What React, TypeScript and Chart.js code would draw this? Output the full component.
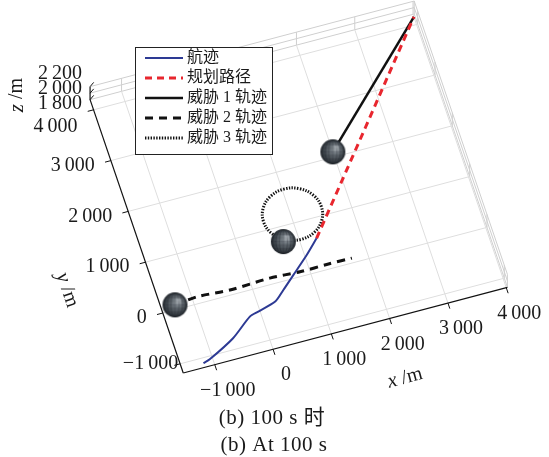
import React, { useEffect, useRef } from "react";
import { Chart, registerables } from "chart.js";

Chart.register(...registerables);

const W = 549;
const H = 457;

// Axis limits and ticks (m)
const X_LIM = [-1540, 4020];
const Y_LIM = [-1180, 4200];
const Z_LIM = [1800, 2200];
const X_TICKS = [-1000, 0, 1000, 2000, 3000, 4000];
const Y_TICKS = [-1000, 0, 1000, 2000, 3000, 4000];
const Z_TICKS = [1800, 2000, 2200];

// Flown track (航迹)
const TRACK_X = [-1170, -1050, -570, -190, -30, 290, 480, 720, 1035, 1280];
const TRACK_Y = [-1100, -1060, -790, -480, -430, -330, -160, 65, 360, 615];
// Planned path (规划路径)
const PLAN_X = [1280, 2640, 4000];
const PLAN_Y = [615, 2380, 4150];
// Threat 1 track
const THREAT1_X = [2000, 4000];
const THREAT1_Y = [2100, 4150];
// Threat 2 track
const THREAT2_X = [-1305, -900, -360, 330, 840, 1330, 1730];
const THREAT2_Y = [90, 130, 95, 120, 90, 95, 90];
// Threat 3 track (loiter circle)
const THREAT3_X = [782, 1030, 1277, 1459, 1525, 1459, 1277, 1030, 782, 601, 535, 601, 782];
const THREAT3_Y = [736, 670, 736, 917, 1165, 1412, 1594, 1660, 1594, 1412, 1165, 917, 736];
// Current threat positions
const THREAT_POS_X = [2000, -1305, 740];
const THREAT_POS_Y = [2100, 90, 715];
const ALT = 1800;

const LEGEND_LABELS = ["航迹", "规划路径", "威胁 1 轨迹", "威胁 2 轨迹", "威胁 3 轨迹"];

// Orthographic view: screen position of (0, 0, zmin) and px-per-metre basis vectors
const VIEW = {
  ox: 252.6,
  oy: 289.3,
  ex: [0.0583, -0.0154],
  ey: [-0.01732, -0.0508],
  ez: [0, -0.0325],
};

type P = { x: number; y: number };

function proj(x: number, y: number, z: number): P {
  const dz = z - Z_LIM[0];
  return {
    x: VIEW.ox + x * VIEW.ex[0] + y * VIEW.ey[0] + dz * VIEW.ez[0],
    y: VIEW.oy + x * VIEW.ex[1] + y * VIEW.ey[1] + dz * VIEW.ez[1],
  };
}

const path = (xs: number[], ys: number[], z: number) => xs.map((x, i) => proj(x, ys[i], z));

function fmt(v: number): string {
  const s = Math.abs(v).toString();
  const t = s.length > 3 ? s.slice(0, -3) + "\u2009" + s.slice(-3) : s;
  return (v < 0 ? "\u2212" : "") + t;
}

function makeSphere(r: number): HTMLCanvasElement {
  const c = document.createElement("canvas");
  const size = Math.ceil(r * 2) + 2;
  c.width = size;
  c.height = size;
  const g = c.getContext("2d")!;
  const cx = size / 2;
  const grad = g.createRadialGradient(cx + r * 0.3, cx - r * 0.35, r * 0.05, cx, cx, r);
  grad.addColorStop(0, "#b2b9be");
  grad.addColorStop(0.35, "#6c747b");
  grad.addColorStop(0.8, "#3a4147");
  grad.addColorStop(1, "#262c31");
  g.fillStyle = grad;
  g.beginPath();
  g.arc(cx, cx, r, 0, Math.PI * 2);
  g.fill();
  // faint surface mesh
  g.save();
  g.clip();
  g.strokeStyle = "rgba(20,25,30,0.22)";
  g.lineWidth = 0.6;
  for (let k = -3; k <= 3; k++) {
    g.beginPath();
    g.ellipse(cx, cx, Math.abs(k) * r * 0.28 + 0.5, r, 0, 0, Math.PI * 2);
    g.stroke();
    g.beginPath();
    g.moveTo(cx - r, cx + (k * r) / 3.5);
    g.lineTo(cx + r, cx + (k * r) / 3.5);
    g.stroke();
  }
  g.restore();
  return c;
}

const GRID = "#dedede";
const WALL = "#cfcfcf";

function seg(a: P, b: P, color: string, width = 1) {
  return {
    data: [a, b],
    showLine: true,
    borderColor: color,
    borderWidth: width,
    pointRadius: 0,
    fill: false,
  };
}

function buildDatasets(sphere: HTMLCanvasElement) {
  const [x0, x1] = X_LIM;
  const [y0, y1] = Y_LIM;
  const [z0, z1] = Z_LIM;
  const back: any[] = [];
  // floor grid
  X_TICKS.forEach((t) => back.push(seg(proj(t, y0, z0), proj(t, y1, z0), GRID)));
  Y_TICKS.forEach((t) => back.push(seg(proj(x0, t, z0), proj(x1, t, z0), GRID)));
  // back wall y = ymax
  Z_TICKS.forEach((t) => back.push(seg(proj(x0, y1, t), proj(x1, y1, t), WALL)));
  X_TICKS.forEach((t) => back.push(seg(proj(t, y1, z0), proj(t, y1, z1), WALL)));
  // back wall x = xmax
  Z_TICKS.forEach((t) => back.push(seg(proj(x1, y0, t), proj(x1, y1, t), WALL)));
  Y_TICKS.forEach((t) => back.push(seg(proj(x1, t, z0), proj(x1, t, z1), WALL)));
  back.push(seg(proj(x1, y1, z0), proj(x1, y1, z1), WALL));
  back.push(seg(proj(x1, y0, z0), proj(x1, y0, z1), WALL));

  // axis lines and tick marks
  const axes: any[] = [];
  axes.push(seg(proj(x0, y0, z0), proj(x1, y0, z0), "#111", 1.2));
  axes.push(seg(proj(x0, y0, z0), proj(x0, y1, z0), "#111", 1.2));
  axes.push(seg(proj(x0, y1, z0), proj(x0, y1, z1), "#111", 1.2));
  X_TICKS.forEach((t) => axes.push(seg(proj(t, y0, z0), proj(t, y0 - 110, z0), "#111", 1)));
  Y_TICKS.forEach((t) => axes.push(seg(proj(x0, t, z0), proj(x0 - 100, t, z0), "#111", 1)));
  Z_TICKS.forEach((t) => axes.push(seg(proj(x0, y1, t), proj(x0 + 80, y1 + 60, t), "#111", 1)));

  const spheres = {
    data: path(THREAT_POS_X, THREAT_POS_Y, ALT),
    showLine: false,
    pointStyle: sphere,
    pointRadius: 13,
    pointHoverRadius: 13,
  };

  const series = [
    {
      label: LEGEND_LABELS[0],
      legend: true,
      data: path(TRACK_X, TRACK_Y, ALT),
      showLine: true,
      borderColor: "#2d3a94",
      borderWidth: 2,
      borderDash: [],
      pointRadius: 0,
      tension: 0.25,
    },
    {
      label: LEGEND_LABELS[1],
      legend: true,
      data: path(PLAN_X, PLAN_Y, ALT),
      showLine: true,
      borderColor: "#e8262e",
      borderWidth: 3,
      borderDash: [7, 5],
      pointRadius: 0,
    },
    {
      label: LEGEND_LABELS[2],
      legend: true,
      data: path(THREAT1_X, THREAT1_Y, ALT),
      showLine: true,
      borderColor: "#111111",
      borderWidth: 2.5,
      borderDash: [],
      pointRadius: 0,
    },
    {
      label: LEGEND_LABELS[3],
      legend: true,
      data: path(THREAT2_X, THREAT2_Y, ALT),
      showLine: true,
      borderColor: "#111111",
      borderWidth: 3,
      borderDash: [8, 6],
      pointRadius: 0,
      tension: 0.3,
    },
    {
      label: LEGEND_LABELS[4],
      legend: true,
      data: path(THREAT3_X, THREAT3_Y, ALT),
      showLine: true,
      borderColor: "#111111",
      borderWidth: 3,
      borderDash: [1.4, 1.4],
      borderCapStyle: "butt",
      pointRadius: 0,
      tension: 0.4,
    },
  ];

  // first dataset is drawn on top
  return [spheres, ...series, ...axes, ...back];
}

const SERIF = "'Liberation Serif', 'DejaVu Serif', serif";
const LEGEND_FONT = "16px 'Liberation Serif', 'Noto Sans CJK SC', serif";

function drawTitle(ctx: CanvasRenderingContext2D, cx: number, cy: number, angle: number, v: string) {
  ctx.save();
  ctx.translate(cx, cy);
  ctx.rotate((angle * Math.PI) / 180);
  ctx.textBaseline = "middle";
  ctx.font = `italic 21px ${SERIF}`;
  const w1 = ctx.measureText(v).width;
  ctx.font = `20px ${SERIF}`;
  const rest = " /m";
  const w2 = ctx.measureText(rest).width;
  const start = -(w1 + w2) / 2;
  ctx.font = `italic 21px ${SERIF}`;
  ctx.textAlign = "left";
  ctx.fillText(v, start, 0);
  ctx.font = `20px ${SERIF}`;
  ctx.fillText(rest, start + w1, 0);
  ctx.restore();
}

const decor = {
  id: "decor",
  afterDraw(chart: any) {
    const { ctx, scales } = chart;
    const px = (p: P) => [scales.x.getPixelForValue(p.x), scales.y.getPixelForValue(p.y)];
    const [x0] = X_LIM;
    const [y0, y1] = Y_LIM;
    const [z0] = Z_LIM;
    ctx.save();
    ctx.fillStyle = "#1a1a1a";
    ctx.font = `20px ${SERIF}`;
    ctx.textBaseline = "middle";

    // x tick labels
    ctx.textAlign = "center";
    X_TICKS.forEach((t) => {
      const [u, v] = px(proj(t, y0, z0));
      ctx.fillText(fmt(t), u + 13, v + 26);
    });

    // y tick labels
    ctx.textAlign = "right";
    Y_TICKS.forEach((t) => {
      const [u, v] = px(proj(x0, t, z0));
      let du = -16;
      let dv = 5;
      if (t === Y_TICKS[0]) { du = -2; dv = 0; }
      if (t === Y_TICKS[Y_TICKS.length - 1]) { dv = 17; }
      ctx.fillText(fmt(t), u + du, v + dv);
    });

    // z tick labels (spread to stay legible)
    const zMid = (Z_TICKS[0] + Z_TICKS[Z_TICKS.length - 1]) / 2;
    const [zu, zv] = px(proj(x0, y1, zMid));
    Z_TICKS.forEach((t) => {
      ctx.fillText(fmt(t), zu - 8, zv - 4 - (t - zMid) * 0.075);
    });

    // axis titles
    drawTitle(ctx, 405, 378, -14.8, "x");
    drawTitle(ctx, 67, 290, 71, "y");
    drawTitle(ctx, 17, 95, -90, "z");

    // captions
    ctx.textAlign = "center";
    ctx.font = `21px ${SERIF}, 'Noto Sans CJK SC'`;
    (ctx as any).letterSpacing = "0.5px";
    ctx.fillText("(b) 100 s 时", 272, 418);
    ctx.fillText("(b) At 100 s", 274, 445);
    (ctx as any).letterSpacing = "0px";

    // legend
    const lx = 135.5, ly = 47.5, lw = 137, lh = 107;
    ctx.fillStyle = "#ffffff";
    ctx.fillRect(lx, ly, lw, lh);
    ctx.strokeStyle = "#222";
    ctx.lineWidth = 1;
    ctx.setLineDash([]);
    ctx.strokeRect(lx, ly, lw, lh);
    ctx.font = LEGEND_FONT;
    ctx.textAlign = "left";
    ctx.fillStyle = "#1a1a1a";
    const items = chart.data.datasets.filter((d: any) => d.legend);
    items.forEach((d: any, i: number) => {
      const y = 58 + i * 20;
      ctx.save();
      ctx.strokeStyle = d.borderColor;
      ctx.lineWidth = d.borderWidth;
      ctx.lineCap = "butt";
      ctx.setLineDash(d.borderDash || []);
      ctx.beginPath();
      ctx.moveTo(145, y);
      ctx.lineTo(183, y);
      ctx.stroke();
      ctx.restore();
      ctx.fillText(d.label, 187, y);
    });
    ctx.restore();
  },
};

export default function App() {
  const ref = useRef<HTMLCanvasElement | null>(null);
  useEffect(() => {
    const canvas = ref.current;
    if (!canvas) return;
    const sphere = makeSphere(12.5);
    const chart = new Chart(canvas, {
      type: "scatter",
      data: { datasets: buildDatasets(sphere) as any },
      options: {
        animation: false,
        responsive: false,
        devicePixelRatio: 1,
        layout: { padding: 0, autoPadding: false },
        events: [],
        plugins: { legend: { display: false }, tooltip: { enabled: false } },
        scales: {
          x: { type: "linear", min: 0, max: W, display: false },
          y: { type: "linear", min: 0, max: H, reverse: true, display: false },
        },
      },
      plugins: [decor],
    });
    return () => chart.destroy();
  }, []);
  return (
    <div style={{ position: "fixed", left: 0, top: 0, width: W, height: H, background: "#fff" }}>
      <canvas ref={ref} width={W} height={H} style={{ display: "block" }} />
    </div>
  );
}
